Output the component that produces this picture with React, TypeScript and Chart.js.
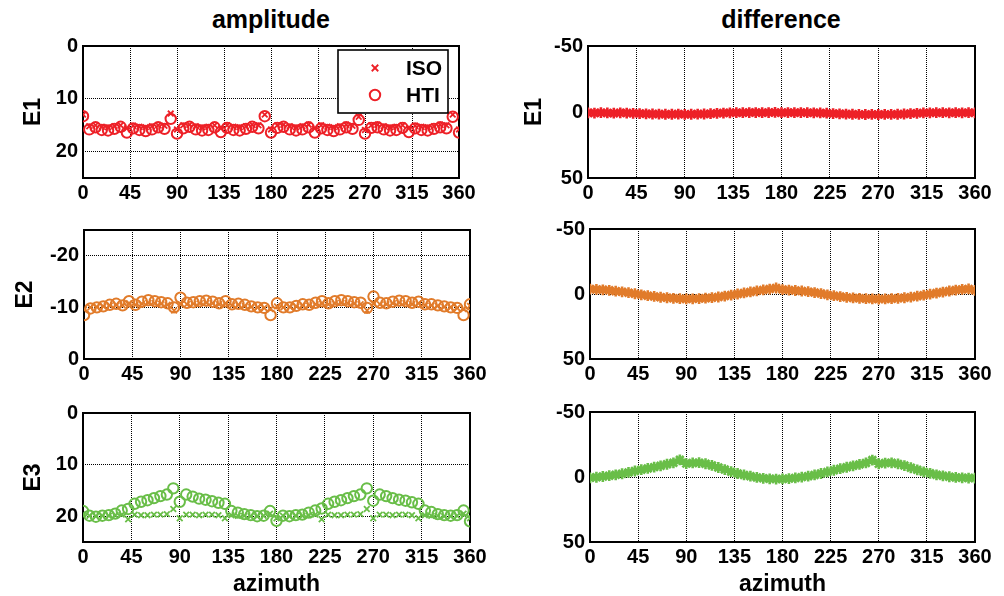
import React, { useEffect, useRef } from 'react';
import { Chart, registerables } from 'chart.js';

Chart.register(...registerables);

// ---------------- data ----------------
const azimuth = [
  0, 6, 12, 18, 24, 30, 36, 42, 48, 54, 60, 66, 72, 78, 84,
  90, 96, 102, 108, 114, 120, 126, 132, 138, 144, 150, 156, 162, 168, 174,
  180, 186, 192, 198, 204, 210, 216, 222, 228, 234, 240, 246, 252, 258, 264,
  270, 276, 282, 288, 294, 300, 306, 312, 318, 324, 330, 336, 342, 348, 354,
  360,
];
const xTicks = [0, 45, 90, 135, 180, 225, 270, 315, 360];

const ampE1Ticks = [0, 10, 20];
const ampE2Ticks = [-20, -10, 0];
const ampE3Ticks = [0, 10, 20];
const diffTicks = [-50, 0, 50];

const seriesLabels = ['ISO', 'HTI'];
const columnTitles = ['amplitude', 'difference'];
const rowLabels = ['E1', 'E2', 'E3'];
const xAxisLabel = 'azimuth';

const isoE1 = [
  13.0, 15.2, 15.0, 15.3, 15.4, 15.2, 15.0, 15.6, 15.1, 15.3, 15.4, 15.2, 15.0, 15.1, 12.8,
  15.8, 15.0, 14.9, 15.2, 15.4, 15.3, 15.0, 15.6, 15.0, 15.3, 15.4, 15.2, 14.9, 15.0, 13.0,
  15.8, 15.0, 14.9, 15.2, 15.4, 15.2, 14.9, 15.6, 15.0, 15.3, 15.4, 15.2, 14.9, 15.1, 13.4,
  15.9, 15.0, 14.9, 15.2, 15.4, 15.3, 15.0, 15.6, 15.1, 15.3, 15.4, 15.2, 14.9, 15.0, 13.0,
  15.8,
];
const htiE1 = [
  13.3, 15.8, 15.4, 15.9, 16.0, 15.7, 15.3, 16.4, 15.6, 15.9, 16.1, 15.8, 15.4, 15.7, 13.8,
  16.6, 15.6, 15.3, 15.8, 16.0, 15.9, 15.4, 16.3, 15.5, 15.9, 16.0, 15.7, 15.3, 15.6, 13.3,
  16.4, 15.5, 15.3, 15.8, 16.0, 15.8, 15.4, 16.4, 15.6, 15.9, 16.1, 15.8, 15.4, 15.7, 14.0,
  16.6, 15.5, 15.4, 15.8, 16.0, 15.9, 15.5, 16.3, 15.6, 15.9, 16.0, 15.7, 15.4, 15.6, 13.4,
  16.4,
];
const isoE2 = [
  -9.6, -10.0, -10.1, -10.2, -10.4, -10.5, -10.4, -10.8, -10.5, -10.7, -10.9, -10.8, -10.7, -10.5, -9.4,
  -10.6, -10.6, -10.7, -10.8, -10.9, -10.8, -10.6, -10.8, -10.4, -10.5, -10.3, -10.1, -10.0, -9.9, -9.7,
  -10.2, -10.0, -10.1, -10.2, -10.4, -10.4, -10.6, -10.8, -10.6, -10.8, -10.9, -10.8, -10.7, -10.6, -9.4,
  -10.7, -10.6, -10.6, -10.8, -10.9, -10.8, -10.6, -10.8, -10.4, -10.4, -10.3, -10.1, -10.0, -9.9, -9.7,
  -10.3,
];
const htiE2 = [
  -8.5, -9.8, -10.0, -10.2, -10.5, -10.7, -10.4, -11.2, -10.5, -11.1, -11.4, -11.2, -11.0, -10.8, -10.0,
  -11.9, -10.9, -11.0, -11.2, -11.3, -11.1, -10.8, -11.2, -10.6, -10.7, -10.5, -10.2, -10.0, -9.9, -8.5,
  -10.8, -10.0, -10.0, -10.3, -10.6, -10.5, -10.9, -11.2, -10.8, -11.2, -11.4, -11.2, -11.0, -10.9, -9.9,
  -12.1, -10.9, -10.8, -11.1, -11.3, -11.2, -10.9, -11.1, -10.6, -10.6, -10.4, -10.2, -10.0, -9.9, -8.5,
  -10.6,
];
const isoE3 = [
  19.6, 19.9, 20.0, 19.9, 19.9, 19.8, 19.7, 20.6, 19.7, 19.8, 19.8, 19.7, 19.7, 19.6, 18.6,
  20.4, 19.7, 19.7, 19.8, 19.7, 19.7, 19.8, 20.4, 19.8, 19.9, 19.9, 20.0, 20.0, 19.9, 19.5,
  20.4, 19.9, 20.0, 19.9, 19.9, 19.8, 19.7, 20.6, 19.7, 19.8, 19.8, 19.7, 19.7, 19.6, 18.6,
  20.4, 19.7, 19.7, 19.8, 19.7, 19.7, 19.8, 20.4, 19.8, 19.9, 19.9, 20.0, 20.0, 19.9, 19.5,
  20.4,
];
const htiE3 = [
  19.0, 19.9, 20.1, 19.9, 19.8, 19.5, 18.9, 18.6, 17.6, 17.2, 16.9, 16.5, 16.1, 15.8, 14.6,
  17.2, 15.8, 16.2, 16.6, 16.8, 17.1, 17.4, 17.6, 19.0, 19.3, 19.6, 19.8, 20.0, 19.9, 19.0,
  20.9, 19.9, 20.0, 19.8, 19.7, 19.3, 18.9, 18.5, 17.6, 17.2, 16.9, 16.5, 16.1, 15.8, 14.6,
  17.0, 15.8, 16.1, 16.5, 16.8, 17.0, 17.3, 17.6, 18.9, 19.2, 19.6, 19.8, 19.9, 19.8, 18.9,
  21.0,
];
const diffE1 = [
  0.6, 0.8, 0.5, 0.7, 0.9, 0.6, 0.8, 1.0, 1.2, 1.4, 1.5, 1.6, 1.7, 1.7, 1.6,
  1.8, 1.7, 1.6, 1.5, 1.3, 1.0, 0.8, 0.6, 0.5, 0.5, 0.4, 0.4, 0.5, 0.4, 0.3,
  0.5, 0.4, 0.5, 0.4, 0.5, 0.6, 0.7, 0.9, 1.2, 1.4, 1.6, 1.7, 1.8, 1.9, 1.8,
  1.9, 1.8, 1.8, 1.7, 1.5, 1.2, 1.0, 0.7, 0.6, 0.5, 0.5, 0.6, 0.5, 0.6, 0.5,
  0.6,
];
const diffE2 = [
  -3.8, -3.5, -3.2, -2.8, -2.2, -1.7, -1.0, -0.2, 0.6, 1.3, 1.9, 2.5, 2.9, 3.3, 3.6,
  3.8, 3.7, 3.5, 3.2, 2.8, 2.3, 1.6, 0.8, 0.0, -0.8, -1.6, -2.4, -3.1, -3.8, -4.6,
  -3.4, -3.0, -2.7, -2.3, -1.8, -1.1, -0.3, 0.6, 1.3, 2.0, 2.6, 3.0, 3.3, 3.6, 3.8,
  3.9, 3.8, 3.6, 3.3, 2.9, 2.4, 1.7, 0.9, 0.1, -0.7, -1.5, -2.3, -3.0, -3.5, -3.9,
  -2.8,
];
const diffE3 = [
  0.6, 0.2, -0.4, -1.0, -1.7, -2.5, -3.5, -4.6, -5.6, -6.6, -7.6, -8.6, -9.8, -10.9, -13.2,
  -10.3, -10.8, -11.0, -10.2, -8.9, -7.3, -5.7, -4.1, -2.7, -1.6, -0.6, 0.3, 1.0, 1.4, 1.6,
  1.5, 1.2, 0.7, 0.1, -0.6, -1.6, -2.7, -3.9, -5.2, -6.4, -7.5, -8.6, -9.7, -10.8, -13.0,
  -10.2, -10.7, -10.9, -10.1, -8.8, -7.1, -5.5, -4.0, -2.8, -1.7, -0.9, -0.2, 0.3, 0.6, 0.8,
  0.8,
];

// ---------------- styling ----------------
const FONT = '"Liberation Sans", Arial, Helvetica, sans-serif';
const RED = '#ED2027';
const ORANGE = '#E17B2A';
const GREEN = '#69BE48';

Chart.defaults.font.family = FONT;
Chart.defaults.color = '#000';

type Series = {
  label: string;
  values: number[];
  style: 'crossRot' | 'circle' | 'star';
  color: string;
  radius: number;
  width: number;
};

type Panel = {
  key: string;
  left: number;
  top: number;
  right: number;
  bottom: number;
  yMin: number;
  yMax: number;
  yTicks: number[];
  yTitle?: string;
  yTitleCenter?: number;
  xTitle?: string;
  legend?: boolean;
  series: Series[];
};

const iso = (values: number[], color: string): Series => ({
  label: seriesLabels[0], values, style: 'crossRot', color, radius: 4, width: 1.8,
});
const hti = (values: number[], color: string): Series => ({
  label: seriesLabels[1], values, style: 'circle', color, radius: 5.2, width: 2,
});
const diff = (values: number[], color: string): Series => ({
  label: 'difference', values, style: 'star', color, radius: 5.4, width: 2.6,
});

const panels: Panel[] = [
  { key: 'a1', left: 83, top: 45, right: 459, bottom: 178, yMin: 0, yMax: 25, yTicks: ampE1Ticks,
    yTitle: rowLabels[0], yTitleCenter: 34, legend: true, series: [iso(isoE1, RED), hti(htiE1, RED)] },
  { key: 'a2', left: 84, top: 229, right: 470, bottom: 359, yMin: -25, yMax: 0, yTicks: ampE2Ticks,
    yTitle: rowLabels[1], yTitleCenter: 26, series: [iso(isoE2, ORANGE), hti(htiE2, ORANGE)] },
  { key: 'a3', left: 83, top: 412, right: 470, bottom: 542, yMin: 0, yMax: 25, yTicks: ampE3Ticks,
    yTitle: rowLabels[2], yTitleCenter: 34, xTitle: xAxisLabel, series: [iso(isoE3, GREEN), hti(htiE3, GREEN)] },
  { key: 'd1', left: 588, top: 45, right: 975, bottom: 178, yMin: -50, yMax: 50, yTicks: diffTicks,
    yTitle: rowLabels[0], yTitleCenter: 535, series: [diff(diffE1, RED)] },
  { key: 'd2', left: 590, top: 228, right: 975, bottom: 359, yMin: -50, yMax: 50, yTicks: diffTicks,
    series: [diff(diffE2, ORANGE)] },
  { key: 'd3', left: 590, top: 411, right: 975, bottom: 542, yMin: -50, yMax: 50, yTicks: diffTicks,
    xTitle: xAxisLabel, series: [diff(diffE3, GREEN)] },
];

const ML = 80;
const MT = 16;
const MR = 26;

const framePlugin = {
  id: 'frame',
  beforeDatasetsDraw(chart: any) {
    const { ctx, chartArea: a } = chart;
    ctx.save();
    ctx.strokeStyle = '#000';
    ctx.lineWidth = 2;
    ctx.strokeRect(a.left, a.top, a.right - a.left, a.bottom - a.top);
    ctx.restore();
  },
};

const boxLegendPlugin = {
  id: 'boxLegend',
  afterDatasetsDraw(chart: any, _args: any, opts: any) {
    if (!opts || !opts.display) return;
    const { ctx, chartArea: a } = chart;
    const x = a.right - opts.right - opts.width;
    const y = a.top + opts.top;
    ctx.save();
    ctx.fillStyle = '#fff';
    ctx.fillRect(x, y, opts.width, opts.height);
    ctx.strokeStyle = '#000';
    ctx.lineWidth = 1.6;
    ctx.strokeRect(x, y, opts.width, opts.height);
    chart.data.datasets.forEach((ds: any, i: number) => {
      const cy = y + opts.rowY[i];
      const cx = x + opts.markerX;
      ctx.strokeStyle = ds.borderColor;
      ctx.lineWidth = ds.pointBorderWidth;
      ctx.beginPath();
      if (ds.pointStyle === 'circle') {
        ctx.arc(cx, cy, ds.pointRadius, 0, Math.PI * 2);
      } else {
        const r = (ds.pointRadius + 0.6) * Math.SQRT1_2;
        ctx.moveTo(cx - r, cy - r);
        ctx.lineTo(cx + r, cy + r);
        ctx.moveTo(cx + r, cy - r);
        ctx.lineTo(cx - r, cy + r);
      }
      ctx.stroke();
      ctx.fillStyle = '#000';
      ctx.font = `bold 21px ${FONT}`;
      ctx.textBaseline = 'middle';
      ctx.textAlign = 'left';
      ctx.fillText(ds.label, x + opts.textX, cy + 1);
    });
    ctx.restore();
  },
};

function PanelChart({ p }: { p: Panel }) {
  const ref = useRef<HTMLCanvasElement | null>(null);
  const xh = p.xTitle ? 54 : 30;
  const w = p.right - p.left + ML + MR;
  const h = p.bottom - p.top + MT + xh;
  const canvasLeft = p.left - ML;

  useEffect(() => {
    if (!ref.current) return;
    const tickFont = { family: FONT, size: 20, weight: 'bold' as const };
    const titleFont = { family: FONT, size: 23, weight: 'bold' as const, lineHeight: 1.2 };
    const yTitlePad = p.yTitleCenter !== undefined ? p.yTitleCenter - canvasLeft - 13.8 : 0;
    const chart = new Chart(ref.current, {
      type: 'scatter',
      data: {
        datasets: p.series.map((s) => ({
          label: s.label,
          data: azimuth.map((x, i) => ({ x, y: s.values[i] })),
          pointStyle: s.style,
          pointRadius: s.radius,
          pointBorderWidth: s.width,
          borderColor: s.color,
          pointBorderColor: s.color,
          backgroundColor: 'rgba(0,0,0,0)',
          pointBackgroundColor: 'rgba(0,0,0,0)',
          showLine: false,
        })),
      },
      options: {
        animation: false,
        responsive: false,
        events: [],
        layout: { padding: { left: 0, top: MT, right: MR, bottom: 0 } },
        plugins: {
          legend: { display: false },
          tooltip: { enabled: false },
          boxLegend: {
            display: !!p.legend,
            width: 110,
            height: 63,
            top: 4,
            right: 11,
            markerX: 37,
            textX: 68,
            rowY: [18, 45],
          },
        } as any,
        scales: {
          x: {
            type: 'linear',
            min: 0,
            max: 360,
            afterBuildTicks: (s: any) => {
              s.ticks = xTicks.map((v) => ({ value: v }));
            },
            afterFit: (s: any) => {
              s.height = xh;
            },
            grid: { color: '#000', lineWidth: 1, drawTicks: false },
            border: { display: false, dash: [1, 1] },
            ticks: { color: '#000', font: tickFont, padding: 3, autoSkip: false, maxRotation: 0 },
            title: {
              display: !!p.xTitle,
              text: p.xTitle || '',
              color: '#000',
              font: { family: FONT, size: 23, weight: 'bold' },
              padding: { top: 0, bottom: -2 },
            },
          },
          y: {
            type: 'linear',
            reverse: true,
            min: p.yMin,
            max: p.yMax,
            afterBuildTicks: (s: any) => {
              s.ticks = p.yTicks.map((v) => ({ value: v }));
            },
            afterFit: (s: any) => {
              s.width = ML;
            },
            grid: { color: '#000', lineWidth: 1, drawTicks: false },
            border: { display: false, dash: [1, 1] },
            ticks: { color: '#000', font: tickFont, padding: 5 },
            title: {
              display: !!p.yTitle,
              text: p.yTitle || '',
              color: '#000',
              font: titleFont,
              padding: { top: yTitlePad, bottom: 0 },
            },
          },
        },
      } as any,
      plugins: [framePlugin, boxLegendPlugin],
    });
    return () => chart.destroy();
  }, []);

  return (
    <canvas
      ref={ref}
      width={w}
      height={h}
      style={{ position: 'absolute', left: canvasLeft, top: p.top - MT, width: w, height: h }}
    />
  );
}

export default function App() {
  const titleStyle: React.CSSProperties = {
    position: 'absolute',
    top: 7,
    width: 240,
    textAlign: 'center',
    font: `bold 25px ${FONT}`,
    lineHeight: '25px',
    color: '#000',
  };
  return (
    <div
      style={{
        position: 'absolute',
        left: 0,
        top: 0,
        width: 1004,
        height: 596,
        overflow: 'hidden',
        background: '#fff',
      }}
    >
      <div style={{ ...titleStyle, left: 271 - 120 }}>{columnTitles[0]}</div>
      <div style={{ ...titleStyle, left: 781 - 120 }}>{columnTitles[1]}</div>
      {panels.map((p) => (
        <PanelChart key={p.key} p={p} />
      ))}
    </div>
  );
}
